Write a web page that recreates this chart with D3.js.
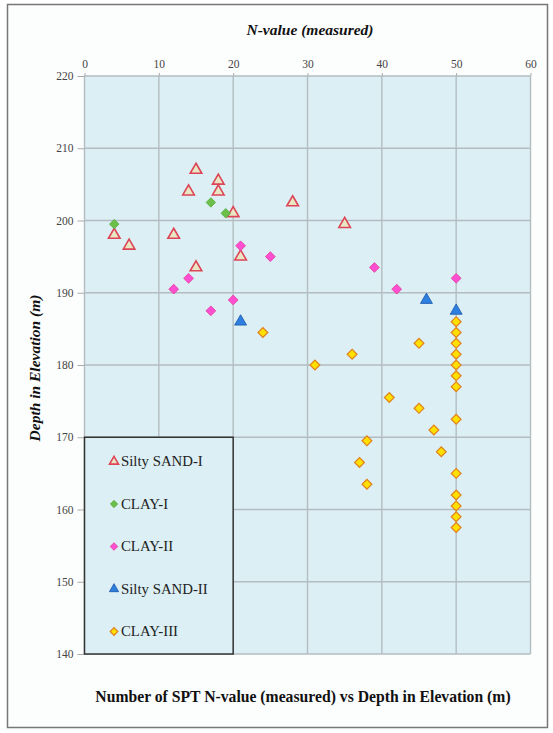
<!DOCTYPE html>
<html><head><meta charset="utf-8">
<script src="https://cdn.jsdelivr.net/npm/d3@7"></script>
<style>body{margin:0;background:#fff;} svg{display:block;}</style>
</head><body>
<script>
// ---- data ----
const xTicks = [0,10,20,30,40,50,60];
const yTicks = [140,150,160,170,180,190,200,210,220];
const seriesNames = ["Silty SAND-I","CLAY-I","CLAY-II","Silty SAND-II","CLAY-III"];
const siltySand1N = [15,18,14,18,20,28,35,4,6,12,21,15];
const siltySand1E = [207,205.5,204,204,201,202.5,199.5,198,196.5,198,195,193.5];
const clay1N = [17,19,4];
const clay1E = [202.5,201,199.5];
const clay2N = [21,25,14,12,20,17,39,42,50];
const clay2E = [196.5,195,192,190.5,189,187.5,193.5,190.5,192];
const siltySand2N = [21,46,50];
const siltySand2E = [186,189,187.5];
const clay3N = [24,45,36,31,41,45,47,38,48,37,38,50,50,50,50,50,50,50,50,50,50,50,50,50];
const clay3E = [184.5,183,181.5,180,175.5,174,171,169.5,168,166.5,163.5,186,184.5,183,181.5,180,178.5,177,172.5,165,162,160.5,159,157.5];

const W=553,H=733;
const svg=d3.select("body").append("svg").attr("width",W).attr("height",H);
svg.append("rect").attr("x",7.5).attr("y",4.5).attr("width",540).attr("height",723)
  .attr("fill","#fcfdfd").attr("stroke","#777").attr("stroke-width",1.5);

const x=d3.scaleLinear().domain([0,60]).range([84.5,530.5]);
const y=d3.scaleLinear().domain([140,220]).range([654,76]);

svg.append("rect").attr("x",x(0)).attr("y",y(220)).attr("width",x(60)-x(0)).attr("height",y(140)-y(220))
  .attr("fill","#dceff4");

const grid=svg.append("g");
grid.selectAll("line.v").data(xTicks).join("line").attr("class","v")
  .attr("x1",d=>x(d)).attr("x2",d=>x(d)).attr("y1",y(220)).attr("y2",y(140))
  .attr("stroke","#b3bdc1").attr("stroke-width",1.4);
grid.selectAll("line.h").data(yTicks).join("line").attr("class","h")
  .attr("x1",x(0)).attr("x2",x(60)).attr("y1",d=>y(d)).attr("y2",d=>y(d))
  .attr("stroke","#b3bdc1").attr("stroke-width",1.4);

const font="'Liberation Serif','Times New Roman',serif";
const xAxis=d3.axisTop(x).tickValues(xTicks).tickSize(3).tickPadding(5);
const gx=svg.append("g").attr("transform",`translate(0,${y(220)})`).call(xAxis);
gx.select(".domain").remove();
gx.selectAll("line").attr("stroke","#aaa");
gx.selectAll("text").attr("font-family",font).attr("font-size",11.5).attr("fill","#444");

const yAxis=d3.axisLeft(y).tickValues(yTicks).tickSize(7).tickPadding(4);
const gy=svg.append("g").attr("transform",`translate(${x(0)},0)`).call(yAxis);
gy.select(".domain").remove();
gy.selectAll("line").attr("stroke","#aaa");
gy.selectAll("text").attr("font-family",font).attr("font-size",11.5).attr("fill","#444");

// legend box (covers gridlines) spanning N 0..20, E 140..170
svg.append("rect").attr("x",x(0)).attr("y",y(170)).attr("width",x(20)-x(0)).attr("height",y(140)-y(170))
  .attr("fill","#dceff4").attr("stroke","#333").attr("stroke-width",1.5);

const styles=[
  {shape:d3.symbolTriangle,size:58,rot:0,fill:"#e9e6c4",stroke:"#dd4455",sw:1.6},
  {shape:d3.symbolSquare,size:44,rot:45,fill:"#6cc04a",stroke:"#55aa40",sw:0.8},
  {shape:d3.symbolSquare,size:48,rot:45,fill:"#ff4fd0",stroke:"#e0409f",sw:0.8},
  {shape:d3.symbolTriangle,size:62,rot:0,fill:"#2d7fe0",stroke:"#1a55a8",sw:0.8},
  {shape:d3.symbolSquare,size:48,rot:45,fill:"#ffe000",stroke:"#e0801a",sw:1.2}
];
const data=[
  siltySand1N.map((n,i)=>[n,siltySand1E[i]]),
  clay1N.map((n,i)=>[n,clay1E[i]]),
  clay2N.map((n,i)=>[n,clay2E[i]]),
  siltySand2N.map((n,i)=>[n,siltySand2E[i]]),
  clay3N.map((n,i)=>[n,clay3E[i]])
];
data.forEach((pts,k)=>{
  const s=styles[k];
  svg.append("g").selectAll("path").data(pts).join("path")
    .attr("transform",d=>`translate(${x(d[0])},${y(d[1])}) rotate(${s.rot})`)
    .attr("d",d3.symbol(s.shape,s.size)())
    .attr("fill",s.fill).attr("stroke",s.stroke).attr("stroke-width",s.sw);
});

// legend entries
const legY=[461.5,504,546.5,589,631.5];
seriesNames.forEach((name,k)=>{
  const s=styles[k];
  svg.append("path").attr("transform",`translate(114,${legY[k]}) rotate(${s.rot})`)
    .attr("d",d3.symbol(s.shape,s.size*0.6)())
    .attr("fill",s.fill).attr("stroke",s.stroke).attr("stroke-width",s.sw);
  svg.append("text").attr("x",121).attr("y",legY[k]+4.5).text(name)
    .attr("font-family",font).attr("font-size",14.8).attr("fill","#222");
});

svg.append("text").attr("x",310).attr("y",35).attr("text-anchor","middle")
  .attr("font-family",font).attr("font-size",15.5).attr("font-weight","bold").attr("font-style","italic")
  .attr("fill","#111").text("N-value (measured)");
svg.append("text").attr("transform","translate(40,368) rotate(-90)").attr("text-anchor","middle")
  .attr("font-family",font).attr("font-size",15.5).attr("font-weight","bold").attr("font-style","italic")
  .attr("fill","#111").text("Depth in Elevation (m)");
svg.append("text").attr("x",303).attr("y",702).attr("text-anchor","middle")
  .attr("font-family",font).attr("font-size",15.7).attr("font-weight","bold")
  .attr("fill","#111").text("Number of SPT N-value (measured) vs Depth in Elevation (m)");
</script>
</body></html>
